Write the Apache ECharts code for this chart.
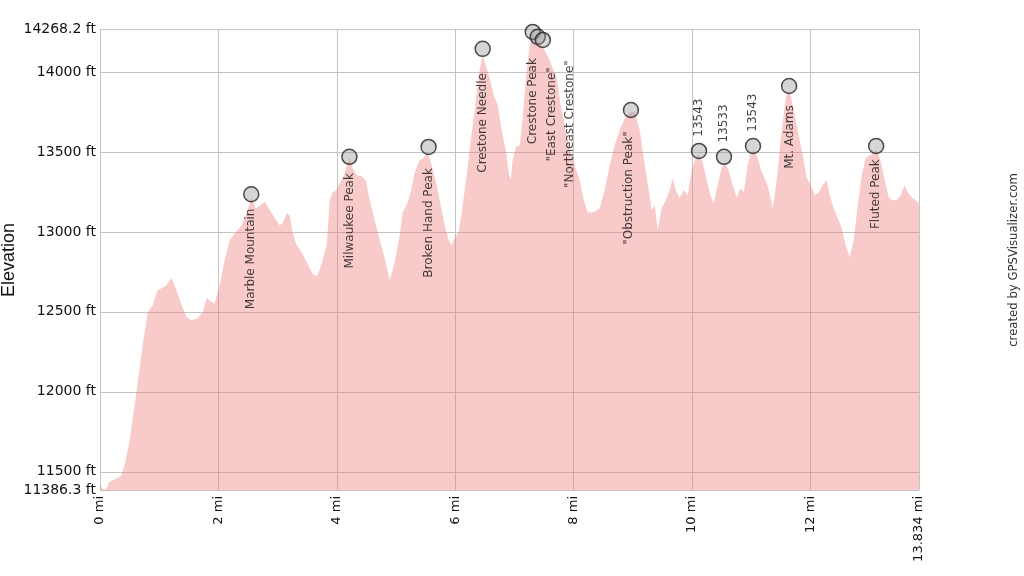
<!DOCTYPE html>
<html>
<head>
<meta charset="utf-8">
<script src="https://cdn.jsdelivr.net/npm/echarts@6/dist/echarts.min.js"></script>
<style>
html,body{margin:0;padding:0;background:#fff;}
#chart{width:1024px;height:576px;}
</style>
</head>
<body>
<div id="chart"></div>
<script>
// ---- Data ----
const profileMiles = [0,0.046,0.096,0.164,0.265,0.35,0.417,0.502,0.62,0.721,0.806,0.89,0.975,1.042,1.11,1.177,1.211,1.279,1.38,1.464,1.549,1.65,1.735,1.802,1.87,1.937,2.022,2.106,2.191,2.292,2.394,2.478,2.563,2.63,2.698,2.782,2.867,2.951,3.035,3.086,3.154,3.204,3.255,3.323,3.407,3.475,3.542,3.61,3.677,3.745,3.829,3.88,3.931,3.998,4.049,4.117,4.184,4.218,4.269,4.336,4.421,4.488,4.556,4.64,4.725,4.809,4.894,4.978,5.063,5.113,5.181,5.248,5.316,5.4,5.468,5.535,5.603,5.687,5.755,5.822,5.89,5.941,5.992,6.059,6.127,6.194,6.262,6.329,6.397,6.464,6.515,6.583,6.65,6.718,6.785,6.853,6.904,6.937,6.971,7.022,7.09,7.14,7.191,7.259,7.309,7.377,7.444,7.512,7.579,7.647,7.715,7.782,7.849,7.934,8.018,8.103,8.171,8.238,8.34,8.441,8.525,8.61,8.694,8.779,8.863,8.948,9.032,9.117,9.201,9.269,9.319,9.37,9.421,9.488,9.556,9.623,9.674,9.725,9.792,9.86,9.927,9.995,10.062,10.113,10.18,10.248,10.315,10.366,10.434,10.501,10.552,10.619,10.687,10.755,10.822,10.873,10.941,10.992,11.042,11.11,11.178,11.228,11.296,11.363,11.431,11.498,11.566,11.616,11.667,11.735,11.802,11.87,11.937,12.005,12.073,12.14,12.208,12.275,12.326,12.393,12.461,12.529,12.596,12.664,12.731,12.799,12.866,12.934,13.001,13.068,13.119,13.186,13.254,13.321,13.389,13.456,13.524,13.591,13.642,13.71,13.777,13.834];
const profileFeet = [11417,11392,11390,11439,11455,11473,11542,11698,12011,12292,12498,12542,12636,12648,12661,12698,12711,12648,12542,12467,12448,12461,12498,12586,12567,12554,12667,12823,12948,12998,13042,13123,13215,13146,13164,13186,13136,13086,13042,13054,13117,13104,12992,12917,12873,12823,12773,12729,12729,12804,12917,13198,13248,13261,13304,13354,13429,13467,13398,13354,13348,13323,13198,13073,12948,12836,12698,12811,12979,13123,13167,13248,13373,13448,13461,13498,13417,13292,13167,13042,12948,12917,12961,12998,13167,13354,13573,13761,13979,14104,14042,13961,13854,13792,13636,13511,13373,13323,13448,13529,13542,13711,13948,14167,14229,14198,14173,14136,14086,14023,13961,13792,13667,13511,13417,13323,13198,13123,13123,13148,13261,13417,13542,13636,13711,13748,13748,13636,13417,13261,13136,13167,13011,13148,13198,13261,13336,13261,13211,13261,13229,13386,13461,13479,13436,13323,13223,13179,13292,13398,13436,13386,13292,13217,13273,13248,13417,13492,13511,13461,13373,13336,13261,13148,13323,13573,13792,13886,13854,13729,13604,13479,13336,13292,13229,13248,13292,13323,13229,13148,13086,13023,12917,12842,12948,13167,13354,13461,13479,13498,13511,13442,13323,13217,13198,13198,13229,13292,13248,13217,13198,13179];

const peakNames = ["Marble Mountain","Milwaukee Peak","Broken Hand Peak","Crestone Needle","Crestone Peak","\"East Crestone\"","\"Northeast Crestone\"","\"Obstruction Peak\"","13543","13533","13543","Mt. Adams","Fluted Peak"];
const peakMiles = [2.555,4.213,5.55,6.464,7.31,7.394,7.48,8.968,10.118,10.54,11.03,11.64,13.11];
const peakFeet  = [13235,13469,13531,14144,14250,14219,14200,13762,13506,13469,13537,13912,13537];

const xTickValues = [0,2,4,6,8,10,12,13.834];
const yTickValues = [11386.3,11500,12000,12500,13000,13500,14000,14268.2];

// ---- Label placement (style) ----
const labelStyle = [
  {side:'bottom', dist:6, dx:0},
  {side:'bottom', dist:8, dx:0},
  {side:'bottom', dist:13, dx:0},
  {side:'bottom', dist:16, dx:0},
  {side:'bottom', dist:18, dx:0},
  {side:'bottom', dist:22, dx:14},
  {side:'bottom', dist:12, dx:27},
  {side:'bottom', dist:13, dx:-2},
  {side:'top', dist:6, dx:0},
  {side:'top', dist:6, dx:0},
  {side:'top', dist:6, dx:0},
  {side:'bottom', dist:11, dx:1},
  {side:'bottom', dist:5, dx:0}
];

const FONT = '"DejaVu Sans", Verdana, sans-serif';
const profile = profileMiles.map((m, i) => [m, profileFeet[i]]);
const peaks = peakNames.map((n, i) => {
  const s = labelStyle[i];
  return {
    value: [peakMiles[i], peakFeet[i]],
    name: n,
    label: {
      show: true,
      formatter: n,
      position: s.side,
      distance: s.dist,
      // offset is applied in the label's rotated frame: local y -> screen x
      offset: [0, s.dx],
      rotate: 90,
      align: s.side === 'bottom' ? 'right' : 'left',
      verticalAlign: 'middle',
      fontSize: 12,
      fontFamily: FONT,
      color: '#111'
    }
  };
});

const chart = echarts.init(document.getElementById('chart'), null, {renderer: 'canvas'});
chart.setOption({
  animation: false,
  backgroundColor: '#ffffff',
  grid: {left: 100, right: 105, top: 29, bottom: 86, containLabel: false},
  xAxis: {
    type: 'value',
    min: 0,
    max: 13.834,
    axisLine: {show: false},
    axisTick: {show: false, customValues: xTickValues},
    splitLine: {show: true, lineStyle: {color: '#c4c4c4', width: 1}},
    axisLabel: {
      customValues: xTickValues,
      rotate: 90,
      margin: 6,
      fontSize: 13,
      fontFamily: FONT,
      color: '#111',
      formatter: v => v + ' mi'
    }
  },
  yAxis: {
    type: 'value',
    min: 11386.3,
    max: 14268.2,
    axisLine: {show: false},
    axisTick: {show: false, customValues: yTickValues},
    splitLine: {show: true, lineStyle: {color: '#c4c4c4', width: 1}},
    axisLabel: {
      customValues: yTickValues,
      margin: 4,
      fontSize: 14,
      fontFamily: FONT,
      color: '#111',
      formatter: v => v + ' ft'
    }
  },
  graphic: [
    {type: 'text', x: 9, y: 260, rotation: Math.PI / 2,
     style: {text: 'Elevation', font: '18px "Liberation Sans", Arial, sans-serif', fill: '#111', align: 'center', verticalAlign: 'middle'}},
    {type: 'text', x: 1014, y: 260, rotation: Math.PI / 2,
     style: {text: 'created by GPSVisualizer.com', font: '11.7px ' + FONT, fill: '#333', align: 'center', verticalAlign: 'middle'}}
  ],
  series: [
    {
      type: 'line',
      data: profile,
      symbol: 'none',
      smooth: false,
      lineStyle: {width: 0, color: 'rgba(240,110,110,0.37)'},
      areaStyle: {color: 'rgba(240,110,110,0.37)', opacity: 1, origin: 'start'},
      z: 2
    },
    {
      type: 'scatter',
      data: peaks,
      symbol: 'circle',
      symbolSize: 15,
      itemStyle: {color: 'rgba(150,150,150,0.5)', borderColor: '#222', borderWidth: 1.5},
      z: 3
    }
  ]
});
</script>
</body>
</html>
